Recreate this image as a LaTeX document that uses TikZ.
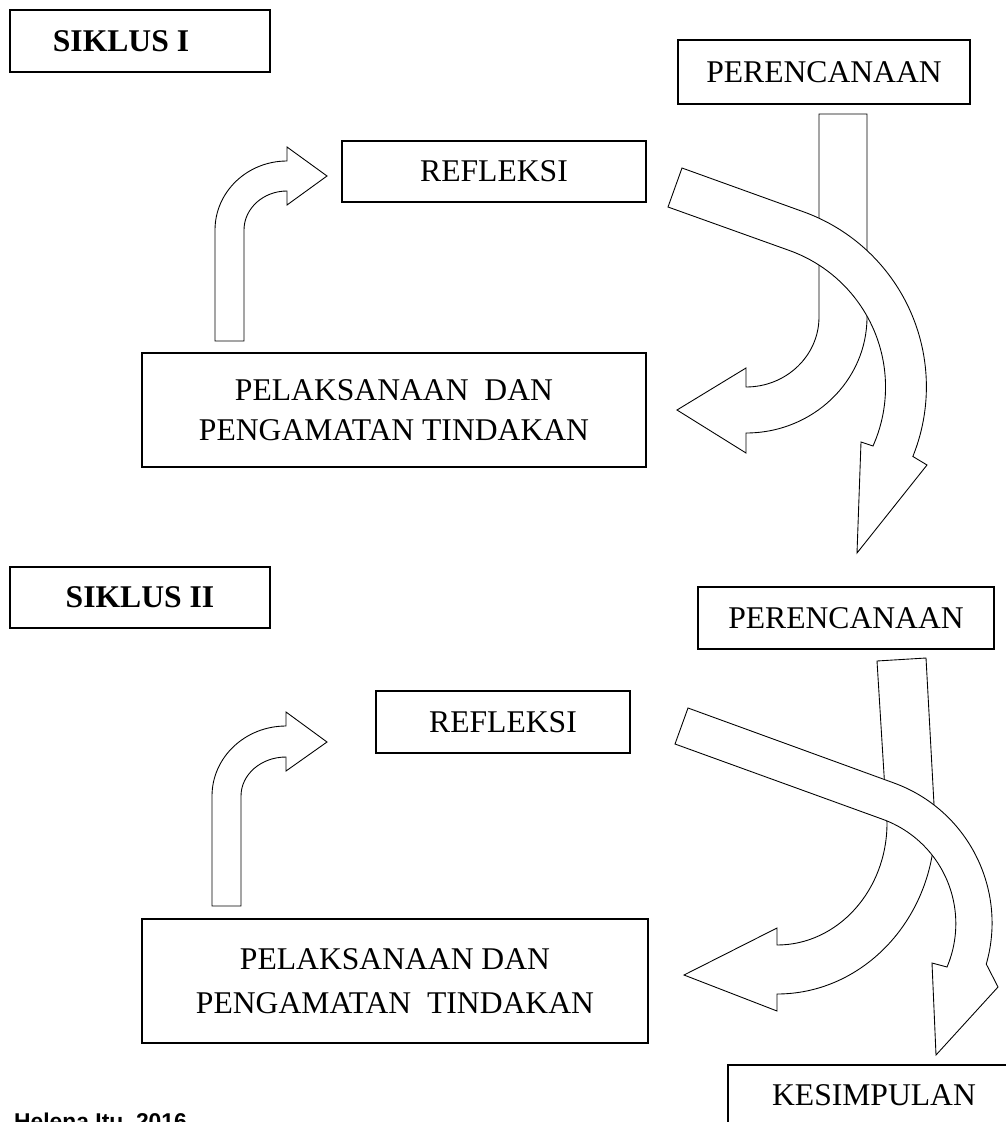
\documentclass[tikz,border=0pt]{standalone}
\usepackage{fontspec}
\setmainfont{Liberation Serif}
\newfontfamily\notefont{Liberation Sans}
\usepackage{tikz}

\begin{document}
\begin{tikzpicture}[x=0.02cm, y=-0.02cm,
    box/.style={draw, line width=0.7pt, inner sep=0pt, align=center, font=\fontsize{18}{23}\selectfont},
    titlebox/.style={box, font=\fontsize{18}{23}\selectfont\bfseries, minimum width=5.2cm},
    blockarrow/.style={draw, fill=white, line width=0.5pt, line join=miter}]
        \useasboundingbox (0,0) rectangle (1006,1122);
        \clip (0,0) rectangle (1006,1122);

        % Siklus I boxes
        \node[titlebox, minimum height=1.24cm] (siklus1) at (140,41) {SIKLUS I\hspace*{0.76cm}};
        \node[box, minimum width=5.84cm, minimum height=1.28cm] (plan1) at (824,72) {PERENCANAAN};
        \node[box, minimum width=6.08cm, minimum height=1.22cm] (refl1) at (494,171.5) {REFLEKSI};
        \node[box, minimum width=10.08cm, minimum height=2.28cm] (act1) at (394,410) {PELAKSANAAN\ \ DAN\\PENGAMATAN TINDAKAN};

        % Siklus I arrows
        \draw[blockarrow] (215,341) -- (215,230) arc[start angle=180, end angle=270, x radius=72, y radius=69]
            -- (287,147) -- (327,176) -- (287,205) -- (287,191)
            arc[start angle=270, end angle=180, x radius=43, y radius=39] -- (244,341) -- cycle;
        \draw[blockarrow] (819,114) -- (867,114) -- (867,317) arc[start angle=0, end angle=90, x radius=121, y radius=116]
            -- (746,453) -- (677,410) -- (746,368) -- (746,387)
            arc[start angle=90, end angle=0, x radius=73, y radius=70] -- cycle;
        \draw[blockarrow] (682,168) -- (804,212) arc[start angle=-70, end angle=22, radius=186]
            -- (927,465) -- (857,553) -- (861,442) -- (873,446)
            arc[start angle=24, end angle=-70, radius=145] -- (668,207) -- cycle;

        % Siklus II boxes
        \node[titlebox, minimum height=1.22cm] (siklus2) at (140,597.5) {SIKLUS II};
        \node[box, minimum width=5.92cm, minimum height=1.24cm] (plan2) at (846,618) {PERENCANAAN};
        \node[box, minimum width=5.08cm, minimum height=1.24cm] (refl2) at (503,722) {REFLEKSI};
        \node[box, minimum width=10.12cm, minimum height=2.48cm, font=\fontsize{18}{25}\selectfont] (act2) at (395,981) {PELAKSANAAN DAN\\PENGAMATAN\ \ TINDAKAN};
        \node[box, minimum width=5.84cm, minimum height=1.2cm] (concl) at (874,1095) {KESIMPULAN};

        % Siklus II arrows
        \draw[blockarrow] (212,906) -- (212,796) arc[start angle=180, end angle=270, x radius=74, y radius=70]
            -- (286,712) -- (327,742) -- (286,771) -- (286,757)
            arc[start angle=270, end angle=180, x radius=45, y radius=39] -- (241,906) -- cycle;
        \draw[blockarrow] (877,661) -- (926,658) -- (935,823) arc[start angle=0, end angle=90, x radius=158, y radius=171]
            -- (777,1011) -- (684,975) -- (777,928) -- (777,945)
            arc[start angle=90, end angle=0, x radius=110, y radius=122] -- cycle;
        \draw[blockarrow] (688,708) -- (894,783) arc[start angle=-70, end angle=16, radius=149]
            -- (998,987) -- (936,1055) -- (932,963) -- (947,967)
            arc[start angle=23, end angle=-70, radius=111] -- (675,744) -- cycle;

        % Source
        \node[anchor=base west, font=\notefont\bfseries\fontsize{13}{15}\selectfont] (source) at (8,1129) {Helena Itu, 2016};
    \end{tikzpicture}
\end{document}
